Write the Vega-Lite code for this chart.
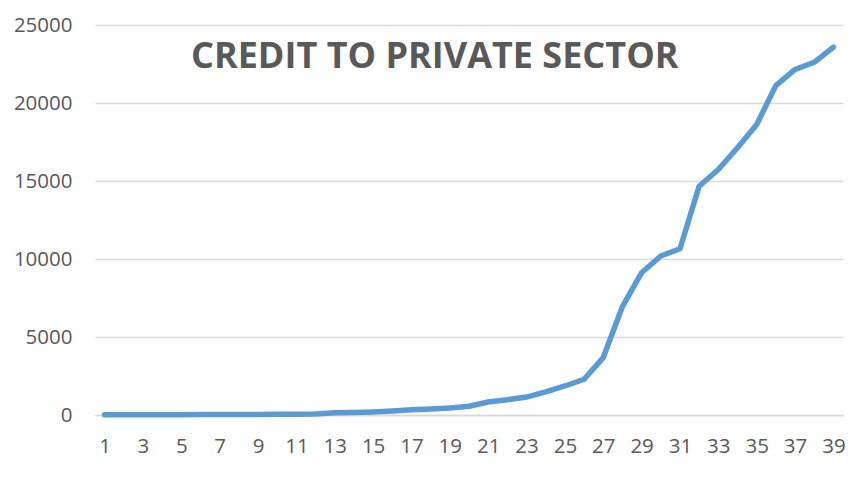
{
  "$schema": "https://vega.github.io/schema/vega-lite/v6.json",
  "width": 748,
  "height": 390,
  "autosize": "none",
  "padding": {"left": 95, "top": 25, "right": 10, "bottom": 62},
  "background": "#ffffff",
  "title": {
    "text": "CREDIT TO PRIVATE SECTOR",
    "anchor": "start",
    "frame": "group",
    "orient": "top",
    "offset": -61,
    "dx": 96,
    "font": "Open Sans",
    "fontSize": 36,
    "fontWeight": "bold",
    "color": "#595959"
  },
  "config": {
    "view": {"stroke": null},
    "font": "Open Sans"
  },
  "data": {
    "values": [
      {"period": 1, "credit": 10}, {"period": 2, "credit": 12}, {"period": 3, "credit": 15},
      {"period": 4, "credit": 18}, {"period": 5, "credit": 20}, {"period": 6, "credit": 25},
      {"period": 7, "credit": 30}, {"period": 8, "credit": 35}, {"period": 9, "credit": 40},
      {"period": 10, "credit": 45}, {"period": 11, "credit": 50}, {"period": 12, "credit": 60},
      {"period": 13, "credit": 140}, {"period": 14, "credit": 160}, {"period": 15, "credit": 200},
      {"period": 16, "credit": 260}, {"period": 17, "credit": 330}, {"period": 18, "credit": 380},
      {"period": 19, "credit": 450}, {"period": 20, "credit": 560}, {"period": 21, "credit": 830},
      {"period": 22, "credit": 980}, {"period": 23, "credit": 1150}, {"period": 24, "credit": 1480},
      {"period": 25, "credit": 1860}, {"period": 26, "credit": 2290}, {"period": 27, "credit": 3680},
      {"period": 28, "credit": 6950}, {"period": 29, "credit": 9120}, {"period": 30, "credit": 10190},
      {"period": 31, "credit": 10660}, {"period": 32, "credit": 14660}, {"period": 33, "credit": 15740},
      {"period": 34, "credit": 17130}, {"period": 35, "credit": 18620}, {"period": 36, "credit": 21120},
      {"period": 37, "credit": 22150}, {"period": 38, "credit": 22610}, {"period": 39, "credit": 23580}
    ]
  },
  "mark": {"type": "line", "color": "#5b9bd5", "strokeWidth": 5.5, "strokeCap": "round", "strokeJoin": "round"},
  "encoding": {
    "x": {
      "field": "period",
      "type": "ordinal",
      "scale": {"paddingInner": 0, "paddingOuter": 0},
      "axis": {
        "title": null,
        "labelAngle": 0,
        "values": [1,3,5,7,9,11,13,15,17,19,21,23,25,27,29,31,33,35,37,39],
        "ticks": false,
        "domainColor": "#d9d9d9",
        "domainWidth": 1.5,
        "labelColor": "#595959",
        "labelFont": "Open Sans",
        "labelFontSize": 20.5,
        "labelPadding": 21
      }
    },
    "y": {
      "field": "credit",
      "type": "quantitative",
      "scale": {"domain": [0, 25000], "nice": false},
      "axis": {
        "title": null,
        "values": [0, 5000, 10000, 15000, 20000, 25000],
        "format": "d",
        "domain": false,
        "ticks": false,
        "gridColor": "#d9d9d9",
        "gridWidth": 1.5,
        "labelColor": "#595959",
        "labelFont": "Open Sans",
        "labelFontSize": 20.5,
        "labelPadding": 23
      }
    }
  }
}
